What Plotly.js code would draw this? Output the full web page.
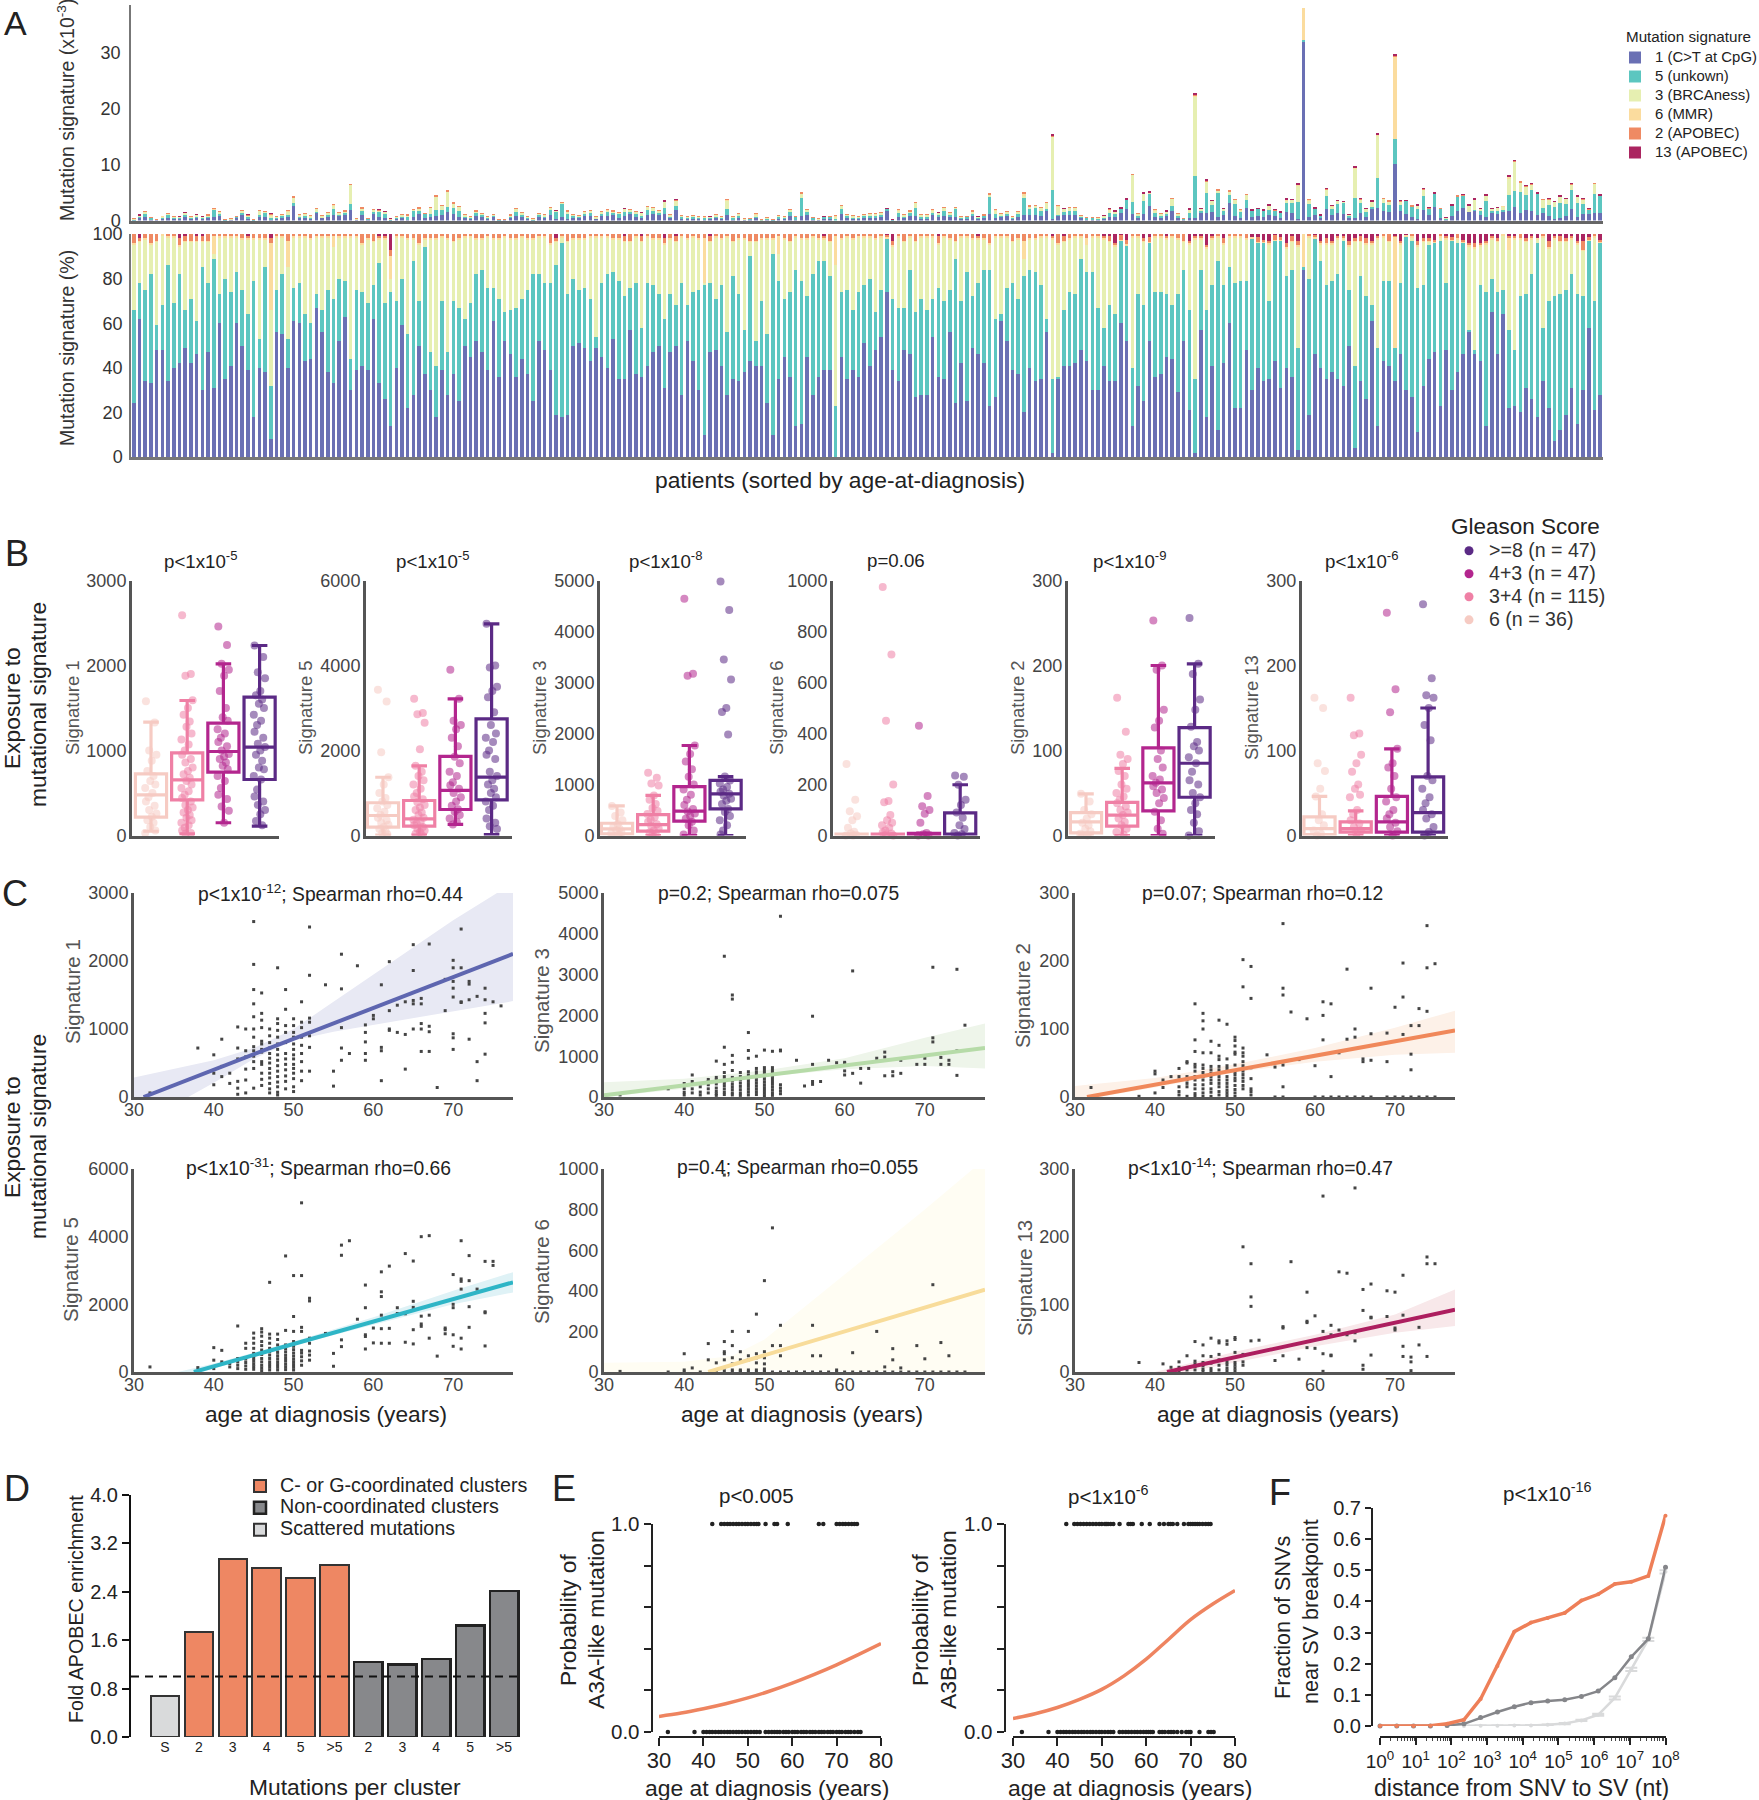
<!DOCTYPE html>
<html><head><meta charset="utf-8">
<script src="https://cdn.plot.ly/plotly-3.0.1.min.js"></script>
<style>html,body{margin:0;padding:0;background:#fff}</style></head>
<body><div id="chart" style="width:1759px;height:1800px"></div>
<script>
// ---------- Panel A values ----------
const sigNames=['1 (C>T at CpG)','5 (unkown)','3 (BRCAness)','6 (MMR)','2 (APOBEC)','13 (APOBEC)'];
const sigColors=['#6a70b4','#5cc6c0','#e6efb1','#fbdc9e','#ef8a63','#ab2560'];
const totals=[.3,1,1.6,.6,.2,.7,1.2,.8,.7,1.5,.7,1.1,.7,1,2.2,1.6,.2,.3,.8,1.8,1,.2,1.8,1.6,1.2,.7,1,1.8,4.2,1,1.3,.9,2.2,.9,1.5,2.8,1.4,1.7,6.5,.3,2.3,.4,2,1.9,1.6,.3,.8,1,1,2,2.3,1.3,2.3,4.4,2.7,5.3,3.2,2.5,1,.7,1.7,1.2,.8,1.1,.2,.2,1,2.2,1.5,.8,.3,1.2,1,2.4,1.8,3.2,1.7,1.1,.9,1.6,1.8,.8,1.6,1.9,1.7,1.5,2.2,2,1.6,1.5,2.5,2.3,1.8,3.5,1.1,3.7,.9,.7,.9,.8,.7,.8,1.1,.8,3.7,.7,1.3,.4,.3,1.2,.1,.5,.1,.9,.8,2,.8,5,2,.6,.3,.8,.8,.9,2.7,1.1,.9,.8,1.1,1.2,1.3,
1.4,2.2,.2,1.9,1.1,1.7,3.3,1,1,1.9,1.5,2.3,1.4,2.4,.8,.8,1.7,.8,1,4.9,1.9,1.3,1.6,.7,1.6,5,2.6,2.7,2.3,3.2,15.4,2.7,2.2,2.3,2.4,.9,.6,.6,.6,.9,2.1,1.7,2.2,3.9,8.3,1.2,5,5.1,1.9,1.2,1.7,3.9,1.3,.4,2.1,22.7,2.2,7.5,3.6,5.5,2.2,5.3,3.8,1.9,4.7,1.9,2.2,1.9,2.8,1.9,1.5,3.9,3.8,6.7,38,3.7,2.2,1,5.8,2.7,3.6,3.4,1.1,9.7,3.9,2.2,3.5,15.6,4,3.5,29.6,3.6,3.6,2.6,2.8,5.8,2.3,5,2.2,.5,2.8,4.4,4.7,2.8,4,2.2,4.6,2.2,2.4,2.5,8,10.8,7,6.3,6.6,5,3.8,4,3.4,4.4,4,6.6,4.4,4,2.1,6.7,4.6];
const pctTop1=[24,62,34,33,48,48,34,40,42,49,42,46,30,47,31,60,35,41,60,50,39,18,40,38,8,56,55,40,61,60,43,44,67,56,38,33,52,63,30,39,41,39,62,33,26,14,40,59,22,28,50,37,30,18,39,28,37,25,50,45,52,47,39,61,36,52,46,36,44,37,25,52,48,39,19,18,19,50,51,49,43,49,45,40,53,35,35,57,37,36,41,47,50,31,47,50,28,52,43,30,10,47,48,41,28,35,34,38,43,41,41,24,10,35,45,36,14,15,45,28,36,
39,39,0,45,35,39,36,51,41,48,54,74,39,34,48,46,27,28,28,54,36,35,56,24,42,25,49,46,42,23,27,61,52,39,37,20,40,34,35,56,2,35,41,41,42,48,43,30,30,41,34,34,60,52,14,32,25,52,36,37,45,44,29,52,21,2,57,18,41,12,42,60,22,22,48,30,40,34,35,43,31,40,36,3,84,19,46,40,35,38,35,32,50,4,34,26,61,14,43,41,34,46,30,27,11,32,44,47,23,48,30,38,46,56,46,43,14,65,46,64,22,23,20,31,26,18,34,22,7,12,19,31,15,30,58,21,28];
const pctTop5=[66,78,75,82,59,68,86,69,82,66,71,61,85,78,89,73,80,74,83,75,64,79,53,85,32,75,82,53,76,78,64,60,73,66,75,71,80,79,44,75,74,69,77,87,69,74,70,80,55,88,70,94,47,41,70,47,70,67,62,69,82,84,76,76,71,65,66,67,71,75,82,82,78,78,86,96,73,80,75,76,71,54,78,82,83,79,72,76,78,58,78,77,73,62,73,68,78,68,74,75,77,78,71,77,56,81,73,57,90,52,70,55,91,79,71,74,84,79,72,82,88,
88,81,23,74,75,66,74,77,80,65,75,98,71,67,67,84,65,71,66,71,76,70,75,89,70,83,72,78,84,84,62,64,76,78,71,81,84,83,77,62,35,36,66,74,73,89,83,83,67,58,68,64,97,95,40,73,68,96,74,74,73,68,73,84,66,35,84,66,77,88,77,85,78,79,79,98,96,96,70,97,97,81,84,49,85,80,98,88,77,79,82,97,75,41,81,72,68,49,79,79,49,78,99,97,76,77,95,96,97,78,97,96,96,57,48,77,74,80,74,75,57,48,72,73,82,96,58,70,72,73,75,82,73,72,97,70,96];
const pct2=[4,1,2,4,3,0,1,1,3,2,3,2,2,3,1,1,1,1,1,2,1,2,2,2,2,1,1,3,1,1,1,2,1,1,1,1,1,1,1,1,4,2,3,1,1,3,1,1,2,2,4,2,2,2,1,2,3,2,1,1,2,2,1,2,2,1,2,2,1,2,2,1,1,4,1,1,3,2,2,2,1,1,1,1,2,2,2,3,1,2,1,2,2,2,2,2,1,2,1,2,2,2,1,2,1,3,2,2,3,3,2,2,2,1,2,3,1,2,2,1,2,
1,3,1,2,1,2,1,1,1,2,1,1,2,1,3,1,3,1,1,1,3,1,2,3,1,1,2,1,2,4,1,1,1,3,2,3,2,2,1,1,1,4,2,2,1,1,2,1,1,1,2,1,2,2,1,1,1,2,1,1,1,1,2,3,1,1,1,1,1,1,2,1,1,1,2,0,2,1,1,2,1,2,2,2,0,1,1,1,2,1,1,1,2,1,2,2,1,1,1,3,.5,1,0,1,2,1,1,1,1,1,1,2,1,1,2,1,1,1,1,0,1,1,2,1,1,0,1,3,1,2,1,1,1,4,1,1,1];
const pct13=[0,2,0,0,0,0,0,0,2,1,0,1,1,0,0,0,0,0,0,0,1,0,0,0,2,0,0,0,0,0,0,0,0,0,0,0,0,0,0,0,0,0,0,1,1,7,0,0,0,0,0,0,0,0,0,0,0,0,0,0,0,0,0,0,0,0,0,0,0,0,0,0,0,0,2,0,0,0,0,0,0,0,0,0,0,0,1,0,0,1,0,0,0,2,0,1,0,0,0,0,0,1,0,0,0,0,0,0,0,0,0,0,0,0,0,0,0,0,0,0,0,
1,0,0,0,0,0,0,0,0,0,0,2,3,0,0,0,0,0,0,0,1,0,0,0,0,0,0,1,0,0,0,0,0,0,0,0,0,0,0,0,1,0,1,0,0,0,0,0,0,1,1,4,4,4,0,0,2,3,0,0,1,0,0,0,3,1,1,5,1,0,2,0,0,0,0,2,3,3,3,1,5,4,1,3,0,0,4,3,2,3,1,1,3,2,1,2,3,1,0,0,.5,3,1,0,3,2,2,3,0,1,2,0,3,4,4,4,3,1,2,0,1,1,0,2,1,2,0,3,1,1,2,1,3,3,4,0,4];
const pct6Bars=[14,24,27,35,45,100,113,123,156,167,205,221,241];
const pct6Vals=[8,30,12,5,10,20,8,13,8,3,15,50,5];
const pct6Rest=0.5;

// ---------- Panel B values ----------
const gleasonNames=['6 (n = 36)','3+4 (n = 115)','4+3 (n = 47)','>=8 (n = 47)'];
const gleasonColors=['#f6cbc3','#ef80a5','#b3268e','#5b2a85'];
const bTitles=['p&lt;1x10<sup>-5</sup>','p&lt;1x10<sup>-5</sup>','p&lt;1x10<sup>-8</sup>','p=0.06','p&lt;1x10<sup>-9</sup>','p&lt;1x10<sup>-6</sup>'];
const bNames=['Signature 1','Signature 5','Signature 3','Signature 6','Signature 2','Signature 13'];
const bMax=[3000,6000,5000,1000,300,300];
const bTicks=[[0,1000,2000,3000],[0,2000,4000,6000],[0,1000,2000,3000,4000,5000],[0,200,400,600,800,1000],[0,100,200,300],[0,100,200,300]];
// lower fence, q1, median, q3, upper fence
const bStats1=[[50,216,478,725,1333],[20,420,655,972,1588],[150,745,988,1321,2020],[110,659,1040,1627,2235]];
const bStats5=[[10,196,470,770,1370],[10,220,392,823,1640],[260,612,1060,1860,3215],[20,840,1373,2745,4980]];
const bStats3=[[0,30,130,240,580],[0,85,215,410,785],[0,280,477,960,1765],[0,523,817,1080,1155]];
const bStats6=[[0,1,3,5,6],[0,1,3,5,6],[0,1,4,8,9],[0,2,5,89,199]];
const bStats2=[[0,3,16,27,49],[0,11,24,39,79],[0,29,62,103,200],[0,45,85,127,202]];
const bStats13=[[0,1,8,22,46],[0,4,8,16,29],[0,4,16,46,102],[0,4,27,69,150]];
const bPts1=[[1580,1330,1000,950,880,760,700,640,600,560,500,450,400,350,300,260,220,180,150,100,60,30],
[2590,1900,1880,1590,1500,1420,1340,1280,1200,1130,1070,1000,950,900,860,800,760,720,680,640,600,560,520,480,440,400,360,330,300,270,240,210,180,150,120,90,60,30,20],
[2460,2240,2020,1950,1880,1700,1500,1390,1350,1250,1200,1150,1100,1050,1000,960,930,900,860,820,780,700,640,560,480,430,340,290,150],
[2235,2100,1920,1850,1700,1650,1600,1550,1500,1420,1350,1300,1220,1150,1080,1040,1000,950,880,800,780,700,660,540,460,400,360,300,250,170,120]];
const bPts5=[[3430,3150,1960,1370,1200,1000,880,800,720,640,560,480,420,360,300,250,200,150,100,60,30],
[3220,2880,2850,2650,2030,1640,1500,1400,1300,1200,1100,1000,920,850,780,720,660,600,540,480,420,370,320,280,240,200,160,120,80,40,20],
[3900,3215,2700,2600,2500,2300,2100,1850,1700,1500,1400,1250,1180,1100,1000,900,800,700,620,560,480,400,320,260],
[4980,4000,3950,3500,3400,3250,2900,2600,2400,2300,2200,2000,1900,1800,1500,1400,1300,1200,1100,1000,900,800,700,600,400,300,220,150]];
const bPts3=[[580,450,380,300,220,170,130,100,70,40,20],
[1230,1130,1020,980,785,700,620,540,480,420,360,310,270,220,180,140,100,60,30,10],
[4640,3170,3130,1765,1600,1450,1300,1150,1000,900,800,700,600,520,470,430,380,330,270,200,100,20],
[4980,4420,3450,3060,2500,2420,1980,1155,1080,1020,950,900,860,820,780,720,680,620,520,460,380,300,200,100,20]];
const bPts6=[[280,140,95,75,60,30,15,8,3,0,0],[975,710,450,200,135,130,80,60,50,40,30,20,12,8,3,0],[430,155,115,100,85,50,10,5,0,0],[235,230,199,140,120,90,70,40,25,10,5,0]];
const bPts2=[[49,40,30,25,20,15,12,8,5,2,0],[162,122,95,90,84,76,70,60,55,50,46,42,38,34,30,27,24,20,16,12,8,4,1],[253,200,195,148,135,127,100,90,80,70,66,62,58,54,50,44,38,28,18,8,2],[256,202,190,160,148,128,110,105,100,92,85,75,65,60,50,45,38,30,25,15,5,0]];
const bPts13=[[162,150,85,76,55,46,25,18,12,6,2,0],[162,120,118,95,85,75,60,55,48,45,30,25,18,14,10,6,2],[262,172,145,102,85,80,70,55,45,40,30,25,20,15,10,5,0],[272,185,165,162,150,130,112,70,65,55,45,38,30,25,20,10,4,0]];
const jitter=[-.14,.1,-.05,.15,.02,-.1,.07,-.02,.12,-.16,.04,-.07];

// ---------- Panel C values ----------
const c1Age=[32,38,40,41,42,43,44,45,46,47,48,49,50,51,52,54,55,56,57,58,59,60,61,62,63,64,65,66,67,68,69,70,71,72,73,74,75,76];
const c1Val=[[60],[720],[180,350,620],[850,300,450],[350,200],[1030,720,560,230,130,40],[1000,680,590,410,250,60],[2580,1950,1580,1370,1180,1000,880,740,680,600,520,420,130],[1530,1230,1130,1020,820,780,700,660,520,480,350,260,170],[1000,900,800,720,640,570,500,420,350,280,200,120,60],[1900,1150,1080,980,880,780,700,620,540,460,380,300,220,150,70,30],[1580,1290,1050,950,800,640,560,480,400,310,230,120],[1150,1050,950,880,780,700,620,560,480,420,350,270,150,80],[1400,1100,1020,880,760,640,520,380,240],[2500,1790,1160,1100,900,730,380],[1650],[380,160],[2100,1590,1020,720,540],[640],[1930],[1060,950,810,640,540],[1200,1150],[1650,730,680,240],[1990,1270,1000,980],[1350,950],[1400,920,410],[2240,1860,1420,1370,1000],[1450,1370,1080,1000,670],[2250,1040,960,670],[140],[1730,1270],[2010,1900,1700,1600,1470,930,870,700],[2470,1900,1400,1390],[1700,1660,1430,850],[1480,520,240],[1600,1430,1230,1090,630],[1400],[1340]];
const c2Age=[32,38,40,41,42,43,44,45,46,47,48,49,50,51,52,54,55,56,57,58,59,60,61,62,63,64,65,66,67,69,70,71,72,73,74,75];
const c2Val=[[50],[200],[330,280,200,110,50],[540,380,200,100],[250,120,50],[430,380,300,200,100],[880,480,420,320,220,140,80,40],[3450,1220,800,600,500,420,350,280,200,120,60],[2500,2400,1020,850,650,480,400,320,250,180,100,50],[600,500,420,340,260,180,100,40],[1580,1140,950,620,540,470,400,330,260,190,120,50],[1000,700,620,550,480,410,340,270,200,130,60],[1150,720,650,580,510,440,370,300,230,160,90,30],[1120,720,650,580,510,450,380,310,240,170,100,40],[4430,1150,1130,300,220,150,80],[900],[270],[1980,800,380,310],[380],[900],[840],[850,820,640,540],[3090,580],[700,340],[700],[950],[1100,980,520],[620,520],[900,580],[800],[950,800],[3180,1450,1350],[970,800],[900,800],[3130,1130,530],[1760]];
const c3Age=[32,38,40,41,42,43,44,45,46,47,48,49,50,51,52,54,55,56,57,58,59,60,61,62,63,64,65,66,67,69,70,71,72,73,74,75];
const c3Val=[[14],[1],[38,34,6],[25,20,14],[30],[42,30,25,15,8,3],[52,50,30,25,20,15,1],[137,84,67,48,44,38,30,25,18,12,5,1],[123,112,100,65,47,42,36,30,25,18,12,6,1],[82,65,45,40,35,30,25,20,12,7,1],[113,76,60,55,45,40,35,30,25,20,15,8,3],[107,56,46,42,30,25,20,15,10,6,2],[88,83,75,66,63,47,37,33,28,24,17,11,6,1],[202,162,72,65,60,52,46,38,33,28,23,17,12],[192,145,43,27,12,8,3],[62],[44,0],[255,160,150,47,15,0],[125],[55],[115],[46,0],[140,120,84,0],[137,30,0],[65,0],[188,85,0],[100,88,0],[56,52,0],[160,93,54,0],[94,52,0],[132,0],[197,147,92,0],[105,63,40,0],[130,105,0],[252,190,126,0],[196,0]];
const c4Age=[32,38,40,41,42,43,44,45,46,47,48,49,50,51,52,54,55,56,57,58,59,60,61,62,63,64,65,66,67,68,69,70,71,72,73,74,75];
const c4Val=[[150],[130],[720,350,100],[640,300],[250,150],[1360,400,300,200,100],[850,700,380,280,180,80],[1150,1000,850,700,550,480,400,320,240,160,80],[1280,1180,1060,900,780,650,520,400,300,200,120,40],[2650,1120,1000,850,700,600,500,400,300,220,140,60],[1120,960,800,680,580,480,390,300,220,140,60],[3430,1230,800,680,590,490,400,320,230,150,70],[2850,1640,1200,900,760,660,560,470,380,300,220,140,60],[5000,2850,1320,1200,900,640,560,450,330,200],[2180,2100,1000,850,620,500,350],[1140],[550,170],[3750,3450,950,750],[3880],[1560],[2570,1900,1100,1050,680],[1300,860],[2960,2370,2230,1680,1280,850],[3130,1290,850],[1900,1730],[3500,1720,880],[3280,2090,1910,1250,830],[4000,1650,1420,1350],[4030,1680,1000],[470],[1300,1250,1130],[2880,2000,1900,1100,760],[3880,2750,2680,2450,1000,680],[3440,2700,1930,1320],[2450],[3270,1780,1750,770],[3270,3150]];
const c5Age=[32,40,41,43,44,45,46,47,48,49,50,51,52,56,57,59,61,64,65,66,67,69,70,71,72,73];
const c5Val=[[3],[90,10],[20],[140,60],[45],[970,150,100,90,60,20,5],[200,130,70,40,10],[100,60,10,5],[200,80,60,10],[285,90,70,45,10],[450,100,70,40,15,5],[710,130],[230,130,80],[230,80],[80],[10],[95],[200],[25],[115,60],[20],[130],[65],[430],[145],[80]];
const c5ZeroAges=[38,40,42,44,46,47,48,49,50,51,52,53,54,55,56,57,58,59,60,61,62,63,64,65,66,67,68,69,70,71,72,73,74,75];
const c6Age=[38,41,42,43,44,45,46,47,48,49,50,51,52,53,55,56,57,58,59,60,61,62,63,64,65,66,67,69,70,71,72,73,74,75];
const c6Val=[[14],[12],[7],[15,7,1],[24,3],[45,16,12,8,3],[40,24,14,9,4,1],[50,23,13,5,1],[46,43,26,18,10,3],[46,41,15,11,6,2],[51,48,29,14,10,6,2],[185,26,15,10],[160,111,97,46],[47],[17],[67,65,24],[163],[19],[118,75,73,36],[83,35],[260,60,27,1],[69,55,25,24],[148,62],[146,55],[272,58,46],[122,91,10,4],[130,81,80,25],[120,82],[118,65,62],[143,84,38,23],[22,15,2],[66,40],[170,160,23],[160]];
// fitted line (two ends), upper and lower band
const c1Line=[[31.2,77.5],[0,2105]], c1Up=[[30,40,45,50,55,60,65,70,75.5,77.5],[285,540,720,1000,1400,1800,2200,2600,3000,3000]], c1Lo=[[30,36.8,40,45,50,55,60,65,70,77.5],[0,0,210,560,830,960,1060,1160,1260,1410]];
const c2Line=[[30,77.5],[40,1200]], c2Up=[[30,40,50,60,70,77.5],[360,450,650,950,1450,1800]], c2Lo=[[30,40,50,60,70,77.5],[0,200,500,680,760,700]];
const c3Line=[[31.5,77.5],[0,98]], c3Up=[[30,40,50,60,70,77.5],[16,28,48,72,102,127]], c3Lo=[[30,33,40,50,60,70,77.5],[0,0,14,36,52,62,65]];
const c4Line=[[37.5,77.5],[0,2650]], c4Up=[[35.5,40,50,60,70,77.5],[0,250,900,1620,2400,2950]], c4Lo=[[38.5,40,50,60,70,77.5],[0,100,780,1400,2000,2350]];
const c5Line=[[43,77.5],[0,405]], c5Up=[[30,40,46,50,60,70,76,77.5],[45,50,80,160,480,800,1000,1000]], c5Lo=[[30,43,50,60,70,77.5],[0,0,10,5,3,0]];
const c6Line=[[41.5,77.5],[0,92]], c6Up=[[40,50,60,70,77.5],[0,30,55,85,122]], c6Lo=[[44,50,60,70,77.5],[0,14,38,58,68]];

// ---------- Panel D values ----------
const dLabels=['S','2','3','4','5','>5','2','3','4','5','>5'];
const dScattered=[0.67], dCoord=[1.73,2.94,2.80,2.63,2.84], dNon=[1.24,1.20,1.29,1.84,2.41];
const dGroups=['C- or G-coordinated clusters','Non-coordinated clusters','Scattered mutations'];

// ---------- Panel E values ----------
const eCurveAge=[30,35,40,45,50,55,60,65,70,75,80];
const e1Curve=[.075,.091,.112,.136,.164,.197,.235,.277,.323,.373,.425];
const e2Curve=[.065,.088,.118,.157,.205,.27,.35,.445,.54,.615,.68];
const e1Top=[42,44,44.7,45.4,46,46.7,47.4,48,48.7,49.4,50,50.7,51.4,52,52.4,54,56,56.6,59,66,67,70,70.7,71.4,72,72.7,73.4,74,74.6];
const e1Bot=[32,38,40,40.7,41.4,42,42.7,43.4,44,44.7,45.4,46,46.7,47.4,48,48.7,49.4,50,50.7,51.4,52,52.7,54,54.7,55.4,56,56.6,57.2,58,58.6,59.2,60,60.6,61.2,62,62.6,63.2,64,64.6,65.2,66,66.6,67.2,68,68.6,69.2,70,70.6,71.2,72,72.6,73.2,74,74.8,75.4];
const e2Top=[42,43.8,44.5,45.2,45.9,46.6,47.3,48,48.7,49.4,50,50.7,51,51.4,52,52.6,54,56,56.5,57,59,60.8,63,64,65,65.5,66,67,68.5,69.5,70,70.5,71,71.5,72,72.7,73.4,74,74.5];
const e2Bot=[32,38,40,40.7,41.4,42,42.7,43.4,44,44.7,45.4,46,46.7,47.4,48,48.7,49.4,50,50.7,51.4,52,52.6,54,54.7,55.4,56,56.7,57.4,58,58.7,59.4,60,60.5,61,61.5,63,63.6,64.2,65,65.6,66.2,67,68,69,69.6,70,72,74,74.6,75.2];

// ---------- Panel F values ----------
const fDist=[1,2.95,8.7,25.8,76,225,660,1950,5800,17000,50000,150000,440000,1300000,3800000,11000000,33000000,100000000];
const fCoord=[0,0,0,.001,.007,.02,.087,.193,.303,.332,.347,.363,.403,.423,.456,.463,.482,.675];
const fNon=[0,0,0,0,.002,.007,.027,.045,.062,.075,.08,.084,.095,.112,.155,.222,.28,.51];
const fScat=[0,0,0,0,0,0,.001,.001,.002,.002,.004,.008,.018,.036,.09,.182,.278,.495];
const fScatErr=[.001,.001,.001,.001,.001,.001,.001,.001,.001,.001,.001,.002,.002,.003,.005,.005,.005,.005];

// ---------- helpers ----------
const W=1759,H=1800,FF='"Liberation Sans",Arial,sans-serif';
const traces=[];
const sized=(t,s)=>'<span style="font-size:'+s+'px">'+t+'</span>';
const layout={width:W,height:H,margin:{l:0,r:0,t:0,b:0,autoexpand:false},paper_bgcolor:'#fff',plot_bgcolor:'rgba(0,0,0,0)',
  font:{family:FF,size:18,color:'#333'},barmode:'stack',boxmode:'overlay',hovermode:false,showlegend:true,annotations:[],
  legend:{x:1615/W,xanchor:'left',y:1-43/H,yanchor:'top',traceorder:'normal',font:{size:12,color:'#222'},bgcolor:'rgba(0,0,0,0)',tracegroupgap:0,itemclick:false},
  legend2:{x:1449/W,xanchor:'left',y:1-505/H,yanchor:'top',traceorder:'reversed',title:{text:'Gleason Score',font:{size:22.5,color:'#222'}},font:{size:15.4,color:'#333'},bgcolor:'rgba(0,0,0,0)',itemclick:false},
  legend3:{x:240/W,xanchor:'left',y:1-1470/H,yanchor:'top',traceorder:'normal',font:{size:14.5,color:'#222'},bgcolor:'rgba(0,0,0,0)',itemclick:false}};
let nAx=0;
function panel(x0,x1,y0,y1,xa,ya){nAx++;const s=nAx===1?'':nAx;
  layout['xaxis'+s]=Object.assign({domain:[x0/W,x1/W],anchor:'y'+s,showgrid:false,zeroline:false,fixedrange:true},xa);
  layout['yaxis'+s]=Object.assign({domain:[1-y1/H,1-y0/H],anchor:'x'+s,showgrid:false,zeroline:false,fixedrange:true},ya);
  return {xaxis:'x'+s,yaxis:'y'+s};}
function note(x,y,text,size,color,angle,anchor){layout.annotations.push({xref:'paper',yref:'paper',x:x/W,y:1-y/H,text,showarrow:false,
  font:{size,color:color||'#222',family:FF},textangle:angle||0,xanchor:anchor||'center',yanchor:'middle',align:'center'});}
const grayAxis={showline:true,linecolor:'#555',linewidth:3};

// ---------- A ----------
const nBars=totals.length, barX=totals.map((_,i)=>i);
const p6=barX.map(i=>{const k=pct6Bars.indexOf(i);return k>=0?pct6Vals[k]:pct6Rest;});
const pctSeries=[pctTop1,
  barX.map(i=>pctTop5[i]-pctTop1[i]),
  barX.map(i=>Math.max(0,100-pctTop5[i]-p6[i]-pct2[i]-pct13[i])),
  p6,pct2,pct13];
const aTop=panel(131,1603,5,220.5,{range:[-.5,nBars-.5],showticklabels:false,ticks:'',showline:true,linecolor:'#666',linewidth:3},
  {range:[0,38.5],tickvals:[0,10,20,30],showline:true,linecolor:'#777',linewidth:1.5,ticks:'outside',ticklen:5,tickcolor:'rgba(0,0,0,0)',tickfont:{size:18,color:'#333'}});
const aBot=panel(131,1603,234,457,{range:[-.5,nBars-.5],showticklabels:false,ticks:'',showline:true,linecolor:'#777',linewidth:3},
  {range:[0,100],tickvals:[0,20,40,60,80,100],showline:true,linecolor:'#777',linewidth:1.5,ticks:'outside',ticklen:3,tickcolor:'rgba(0,0,0,0)',tickfont:{size:18,color:'#333'}});
sigNames.forEach((name,k)=>{
  traces.push(Object.assign({type:'bar',x:barX,y:barX.map(i=>totals[i]*pctSeries[k][i]/100),width:.62,name:sized(name,14.9),legend:'legend',showlegend:true,marker:{color:sigColors[k],line:{width:0}}},aTop));
  traces.push(Object.assign({type:'bar',x:barX,y:pctSeries[k],width:.62,name,showlegend:false,marker:{color:sigColors[k],line:{width:0}}},aBot));
});
note(66,110,'Mutation signature (x10<sup>-3</sup>)',19.5,'#333',-90);
note(67,348,'Mutation signature (%)',19.5,'#333',-90);
note(840,480,'patients (sorted by age-at-diagnosis)',22.8,'#222');
note(1624,37,'Mutation signature',15.2,'#222',0,'left');
note(16,23,'A',34);

// ---------- B ----------
const bX=[[132,279],[366,512],[600,746],[833,980],[1068,1215],[1302,1448]];
const bOff=[19,17,17,18.6,18,17.5];
const bStats=[bStats1,bStats5,bStats3,bStats6,bStats2,bStats13], bPts=[bPts1,bPts5,bPts3,bPts6,bPts2,bPts13];
const bNameX=[72,305,539,776,1017,1251], bTitleX=[200,432,665,896,1129,1361];
let firstB=null;
bX.forEach((xx,p)=>{
  const l=-bOff[p]/36.2, r=(xx[1]-xx[0]-bOff[p])/36.2;
  const ax=panel(xx[0],xx[1],580.5,835.5,Object.assign({range:[l,r],showticklabels:false,ticks:''},grayAxis),
    Object.assign({range:[0,bMax[p]],tickvals:bTicks[p],ticks:'',ticklabelstandoff:-1,tickfont:{size:18,color:'#444'}},grayAxis));
  if(p===0)firstB=ax;
  [0,1,2,3].forEach(c=>{
    const pts=bPts[p][c];
    traces.push(Object.assign({type:'scatter',mode:'markers',x:pts.map((_,i)=>c+jitter[i%jitter.length]),y:pts,cliponaxis:false,showlegend:false,
      marker:{color:gleasonColors[c],size:8,opacity:.55,line:{width:0}}},ax));
    const s=bStats[p][c];
    traces.push(Object.assign({type:'box',x:[c],lowerfence:[s[0]],q1:[s[1]],median:[s[2]],q3:[s[3]],upperfence:[s[4]],width:.86,whiskerwidth:.5,boxpoints:false,
      showlegend:false,fillcolor:'rgba(0,0,0,0)',line:{color:gleasonColors[c],width:3.2}},ax));
  });
  note(bNameX[p],708,bNames[p],18.5,'#555',-90);
  note(bTitleX[p],560,bTitles[p],18.7,'#222');
});
[0,1,2,3].forEach(c=>traces.push(Object.assign({type:'scatter',mode:'markers',x:[null],y:[null],name:sized(gleasonNames[c],19.6),legend:'legend2',showlegend:true,
  marker:{color:gleasonColors[c],size:9}},firstB)));
note(12,708,'Exposure to',22.8,'#222',-90);
note(38,705,'mutational signature',22.8,'#222',-90);
note(17,553,'B',36);

// ---------- C ----------
const cCols=[[134,513],[604,985],[1075,1455]], cRows=[[893,1097],[1169,1372]];
const cDefs=[
 {name:'Signature 1',col:0,row:0,max:3000,ticks:[0,1000,2000,3000],age:c1Age,val:c1Val,line:c1Line,up:c1Up,lo:c1Lo,color:'#5e66b0',band:'#e8e9f4',title:'p&lt;1x10<sup>-12</sup>; Spearman rho=0.44',tx:330,nx:72,ny:992},
 {name:'Signature 3',col:1,row:0,max:5000,ticks:[0,1000,2000,3000,4000,5000],age:c2Age,val:c2Val,line:c2Line,up:c2Up,lo:c2Lo,color:'#b6dba8',band:'#eef5ea',title:'p=0.2; Spearman rho=0.075',tx:778,nx:541,ny:1001},
 {name:'Signature 2',col:2,row:0,max:300,ticks:[0,100,200,300],age:c3Age,val:c3Val,line:c3Line,up:c3Up,lo:c3Lo,color:'#f0885a',band:'#fdf1e8',title:'p=0.07; Spearman rho=0.12',tx:1262,nx:1022,ny:996},
 {name:'Signature 5',col:0,row:1,max:6000,ticks:[0,2000,4000,6000],age:c4Age,val:c4Val,line:c4Line,up:c4Up,lo:c4Lo,color:'#2eb5c6',band:'#dff2f6',title:'p&lt;1x10<sup>-31</sup>; Spearman rho=0.66',tx:318,nx:70,ny:1270},
 {name:'Signature 6',col:1,row:1,max:1000,ticks:[0,200,400,600,800,1000],age:c5Age,val:c5Val,line:c5Line,up:c5Up,lo:c5Lo,color:'#f8dc9a',band:'#fffdf3',title:'p=0.4; Spearman rho=0.055',tx:797,nx:541,ny:1272,zeros:c5ZeroAges},
 {name:'Signature 13',col:2,row:1,max:300,ticks:[0,100,200,300],age:c6Age,val:c6Val,line:c6Line,up:c6Up,lo:c6Lo,color:'#ad1e5f',band:'#f8e8ea',title:'p&lt;1x10<sup>-14</sup>; Spearman rho=0.47',tx:1260,nx:1024,ny:1278}];
cDefs.forEach(d=>{
  const xx=cCols[d.col], yy=cRows[d.row];
  const ax=panel(xx[0],xx[1],yy[0],yy[1],Object.assign({range:[30,77.5],tickvals:[30,40,50,60,70],ticks:'',ticklabelstandoff:-6,tickfont:{size:18,color:'#444'}},grayAxis),
    Object.assign({range:[0,d.max],tickvals:d.ticks,ticks:'',ticklabelstandoff:-1,tickfont:{size:18,color:'#444'}},grayAxis));
  traces.push(Object.assign({type:'scatter',mode:'lines',x:d.up[0].concat(d.lo[0].slice().reverse()),y:d.up[1].concat(d.lo[1].slice().reverse()),fill:'toself',fillcolor:d.band,line:{width:0},showlegend:false},ax));
  const xs=[],ys=[];
  d.age.forEach((a,i)=>d.val[i].forEach(v=>{xs.push(a);ys.push(v);}));
  if(d.zeros)d.zeros.forEach(a=>{xs.push(a);ys.push(0);});
  traces.push(Object.assign({type:'scatter',mode:'markers',x:xs,y:ys,showlegend:false,marker:{symbol:'square',size:3,color:'#444'}},ax));
  traces.push(Object.assign({type:'scatter',mode:'lines',x:d.line[0],y:d.line[1],showlegend:false,line:{color:d.color,width:4}},ax));
  note(d.nx,d.ny,d.name,20.5,'#555',-90);
  note(d.tx,d.row?1167:893,d.title,19.3,'#222');
});
[326,802,1278].forEach(x=>note(x,1414,'age at diagnosis (years)',22.7,'#222'));
note(12,1137,'Exposure to',22.8,'#222',-90);
note(38,1137,'mutational signature',22.8,'#222',-90);
note(15,893,'C',36);

// ---------- D ----------
const dAx=panel(131,520,1495,1737,{range:[-1,10.47],tickvals:dLabels.map((_,i)=>i),ticktext:dLabels,ticks:'',tickfont:{size:14,color:'#222'},showline:false},
  {range:[0,4],tickvals:[0,.8,1.6,2.4,3.2,4],ticktext:['0.0','0.8','1.6','2.4','3.2','4.0'],ticks:'outside',ticklen:7,tickcolor:'#111',tickwidth:2,showline:true,linecolor:'#111',linewidth:2,tickfont:{size:20,color:'#222'}});
const barLine={color:'#333',width:2};
traces.push(Object.assign({type:'bar',x:[1,2,3,4,5],y:dCoord,width:.84,name:sized(dGroups[0],19.7),legend:'legend3',showlegend:true,marker:{color:'#ee8763',line:barLine}},dAx));
traces.push(Object.assign({type:'bar',x:[6,7,8,9,10],y:dNon,width:.84,name:sized(dGroups[1],19.7),legend:'legend3',showlegend:true,marker:{color:'#87888b',line:{color:'#222',width:2.5}}},dAx));
traces.push(Object.assign({type:'bar',x:[0],y:dScattered,width:.84,name:sized(dGroups[2],19.7),legend:'legend3',showlegend:true,marker:{color:'#d9dadb',line:barLine}},dAx));
traces.push(Object.assign({type:'scatter',mode:'lines',x:[-1,10.4],y:[1,1],showlegend:false,line:{color:'#111',width:2,dash:'8px,6px'}},dAx));
note(76,1609,'Fold APOBEC enrichment',19.7,'#222',-90);
note(355,1787,'Mutations per cluster',22.8,'#222');
note(17,1488,'D',36);

// ---------- E ----------
function ePanel(x0,yAxisX,curve,top,bot,labelX,l1,l2,tx,title,xt){
  const ax=panel(x0,x0+222,1524,1732,{range:[30,80],anchor:'free',position:1-1737/H,tickvals:[30,40,50,60,70,80],ticks:'outside',ticklen:8,tickwidth:2,tickcolor:'#222',ticklabelstandoff:-4,showline:true,linecolor:'#222',linewidth:2,tickfont:{size:22,color:'#222'}},
    {range:[0,1],anchor:'free',position:yAxisX/W,tickvals:[0,1],ticktext:['0.0','1.0'],ticks:'outside',ticklen:7,tickwidth:2,tickcolor:'#222',showline:true,linecolor:'#222',linewidth:2,tickfont:{size:20.5,color:'#222'},
     minor:{tickvals:[.2,.4,.6,.8],ticks:'outside',ticklen:7,tickwidth:2,tickcolor:'#222'}});
  traces.push(Object.assign({type:'scatter',mode:'markers',x:top,y:top.map(()=>1),cliponaxis:false,showlegend:false,marker:{size:4.5,color:'#222'}},ax));
  traces.push(Object.assign({type:'scatter',mode:'markers',x:bot,y:bot.map(()=>0),cliponaxis:false,showlegend:false,marker:{size:4.5,color:'#222'}},ax));
  traces.push(Object.assign({type:'scatter',mode:'lines',x:eCurveAge,y:curve,showlegend:false,line:{color:'#ee8460',width:3.5,shape:'spline'}},ax));
  note(labelX[0],1620,l1,22.8,'#222',-90);
  note(labelX[1],1620,l2,22.8,'#222',-90);
  note(tx,1495,title,20.5,'#222');
  note(xt,1788,'age at diagnosis (years)',22.9,'#222');
}
ePanel(659,651.6,e1Curve,e1Top,e1Bot,[568,596],'Probability of','A3A-like mutation',756,'p&lt;0.005',767);
ePanel(1013,1004.6,e2Curve,e2Top,e2Bot,[920,948],'Probability of','A3B-like mutation',1108,'p&lt;1x10<sup>-6</sup>',1130);
note(564,1488,'E',36);

// ---------- F ----------
const fAx=panel(1380,1665.5,1508,1726,{type:'log',range:[0,8],anchor:'free',position:1-1737/H,tickvals:[1,10,100,1e3,1e4,1e5,1e6,1e7,1e8],
   ticktext:[0,1,2,3,4,5,6,7,8].map(k=>'10<sup>'+k+'</sup>'),ticks:'outside',ticklen:7,tickwidth:2,tickcolor:'#222',showline:true,linecolor:'#222',linewidth:2,tickfont:{size:19,color:'#222'},
   minor:{ticks:'outside',ticklen:3,tickwidth:1,tickcolor:'#444',dtick:'D1'}},
  {range:[0,.7],anchor:'free',position:1372/W,tickvals:[0,.1,.2,.3,.4,.5,.6,.7],ticktext:['0.0','0.1','0.2','0.3','0.4','0.5','0.6','0.7'],ticks:'outside',ticklen:6,tickwidth:2,tickcolor:'#222',showline:true,linecolor:'#222',linewidth:2,tickfont:{size:20,color:'#222'}});
traces.push(Object.assign({type:'scatter',mode:'lines+markers',x:fDist,y:fScat,cliponaxis:false,showlegend:false,line:{color:'#d9dadb',width:2.5},marker:{size:4,color:'#d9dadb'},error_y:{type:'data',array:fScatErr,color:'#d9dadb',width:6,thickness:2}},fAx));
traces.push(Object.assign({type:'scatter',mode:'lines+markers',x:fDist,y:fNon,cliponaxis:false,showlegend:false,line:{color:'#85868a',width:2.5},marker:{size:5,color:'#85868a'}},fAx));
traces.push(Object.assign({type:'scatter',mode:'lines+markers',x:fDist,y:fCoord,cliponaxis:false,showlegend:false,line:{color:'#ee7f58',width:3.5},marker:{size:4,color:'#ee7f58'}},fAx));
note(1282,1618,'Fraction of SNVs',21.6,'#222',-90);
note(1310,1612,'near SV breakpoint',21.6,'#222',-90);
note(1521,1788,'distance from SNV to SV (nt)',23,'#222');
note(1547,1492,'p&lt;1x10<sup>-16</sup>',20.5,'#222');
note(1280,1492,'F',36);

Plotly.newPlot('chart',traces,layout,{displayModeBar:false,responsive:false});
</script></body></html>
